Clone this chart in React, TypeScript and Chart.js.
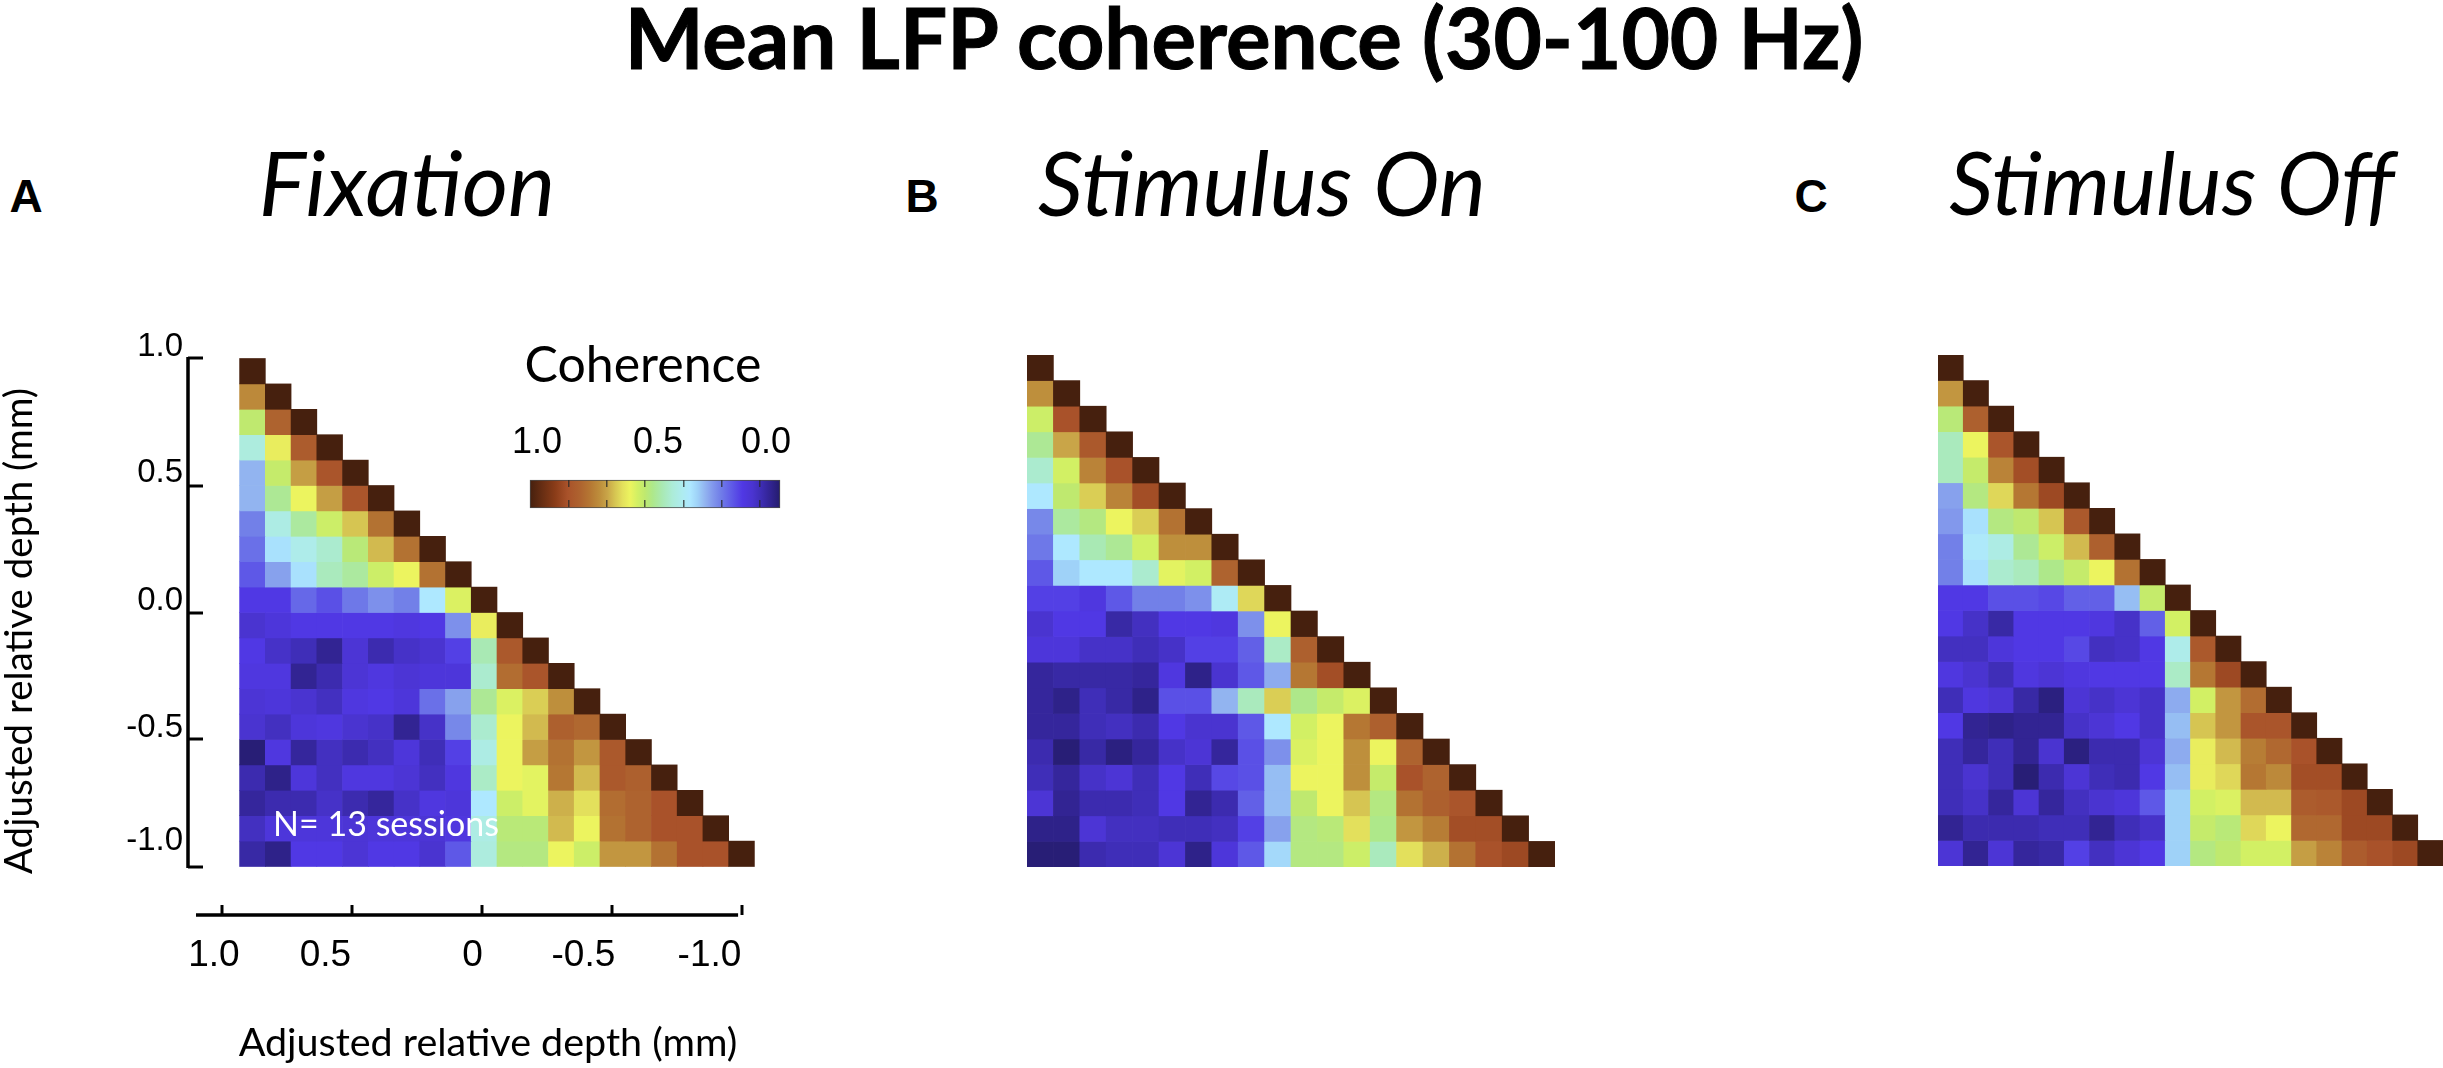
import React, { useEffect, useRef } from "react";
import { Chart, registerables } from "chart.js";

Chart.register(...registerables);

const mainTitle = "Mean LFP coherence (30-100 Hz)";
const panelLetters = ["A", "B", "C"];
const panelTitles = ["Fixation", "Stimulus On", "Stimulus Off"];
const colorbarTitle = "Coherence";
const sessionsNote = "N= 13 sessions";
const axisTitle = "Adjusted relative depth (mm)";

const yTickValues = [1, 0.5, 0, -0.5, -1];
const yLabelPositions = [1.047, 0.551, 0.047, -0.453, -0.898];
const yTickLabels = ["1.0", "0.5", "0.0", "-0.5", "-1.0"];
const xTickValues = [1, 0.5, 0, -0.5, -1];
const xLabelPositions = [1.031, 0.602, 0.036, -0.39, -0.875];
const xTickLabels = ["1.0", "0.5", "0", "-0.5", "-1.0"];

const colorbarLabelPositions = [0.972, 0.488, 0.056];
const colorbarLabels = ["1.0", "0.5", "0.0"];
const colorbarMarks = [0.847, 0.693, 0.54, 0.387, 0.233, 0.08];

const colormapValues = [1, 0.9, 0.85, 0.8, 0.76, 0.72, 0.69, 0.66, 0.63, 0.6, 0.57, 0.54, 0.51, 0.47, 0.43, 0.39, 0.36, 0.33, 0.3, 0.27, 0.24, 0.21, 0.18, 0.15, 0.11, 0.08, 0.05, 0.02, 0];
const colormapColors = ["#46200e", "#8a3c18", "#a9522a", "#ae632f", "#b57733", "#be8f3c", "#c9a548", "#d6c552", "#e3e05c", "#ecf45f", "#d2f064", "#bfe96f", "#aee88a", "#a9e9b4", "#acecd8", "#aeecf0", "#aee8ff", "#9fd2f8", "#92b4f0", "#8298ec", "#7280e8", "#6668e8", "#5a50e6", "#5038e4", "#4a34d0", "#3f2eb8", "#35269c", "#2b2080", "#241c6c"];

const fixationRows = [
  [1],
  [0.73, 1],
  [0.54, 0.8, 1],
  [0.42, 0.61, 0.82, 1],
  [0.3, 0.55, 0.7, 0.84, 1],
  [0.3, 0.5, 0.6, 0.7, 0.84, 1],
  [0.24, 0.41, 0.49, 0.56, 0.66, 0.77, 1],
  [0.22, 0.35, 0.4, 0.44, 0.53, 0.67, 0.77, 1],
  [0.19, 0.28, 0.35, 0.46, 0.49, 0.56, 0.6, 0.77, 1],
  [0.15, 0.15, 0.21, 0.18, 0.23, 0.26, 0.24, 0.36, 0.58, 1],
  [0.11, 0.13, 0.15, 0.15, 0.15, 0.15, 0.14, 0.15, 0.26, 0.61, 1],
  [0.15, 0.1, 0.08, 0.04, 0.12, 0.07, 0.1, 0.11, 0.16, 0.47, 0.83, 1],
  [0.14, 0.14, 0.04, 0.07, 0.12, 0.14, 0.12, 0.13, 0.13, 0.44, 0.78, 0.84, 1],
  [0.12, 0.13, 0.11, 0.09, 0.14, 0.15, 0.13, 0.22, 0.28, 0.5, 0.58, 0.65, 0.72, 1],
  [0.11, 0.09, 0.13, 0.14, 0.11, 0.1, 0.04, 0.1, 0.25, 0.44, 0.6, 0.67, 0.81, 0.79, 1],
  [0.01, 0.14, 0.05, 0.09, 0.07, 0.09, 0.13, 0.08, 0.16, 0.41, 0.6, 0.7, 0.77, 0.71, 0.83, 1],
  [0.07, 0.03, 0.13, 0.09, 0.14, 0.14, 0.12, 0.09, 0.14, 0.45, 0.6, 0.59, 0.76, 0.67, 0.83, 0.81, 1],
  [0.05, 0.07, 0.07, 0.1, 0.07, 0.05, 0.1, 0.14, 0.13, 0.36, 0.56, 0.59, 0.68, 0.63, 0.78, 0.8, 0.85, 1],
  [0.09, 0.13, 0.13, 0.13, 0.12, 0.13, 0.13, 0.12, 0.14, 0.41, 0.53, 0.53, 0.67, 0.6, 0.77, 0.8, 0.85, 0.85, 1],
  [0.06, 0.03, 0.15, 0.15, 0.12, 0.15, 0.15, 0.11, 0.19, 0.42, 0.52, 0.52, 0.6, 0.56, 0.71, 0.71, 0.77, 0.85, 0.85, 1],
];

const stimulusOnRows = [
  [1],
  [0.72, 1],
  [0.56, 0.85, 1],
  [0.5, 0.69, 0.83, 1],
  [0.44, 0.57, 0.74, 0.85, 1],
  [0.36, 0.54, 0.65, 0.74, 0.86, 1],
  [0.25, 0.49, 0.52, 0.6, 0.65, 0.77, 1],
  [0.23, 0.36, 0.47, 0.5, 0.57, 0.72, 0.72, 1],
  [0.19, 0.33, 0.36, 0.36, 0.44, 0.59, 0.57, 0.8, 1],
  [0.16, 0.16, 0.14, 0.19, 0.24, 0.24, 0.26, 0.38, 0.64, 1],
  [0.11, 0.15, 0.15, 0.06, 0.09, 0.15, 0.15, 0.14, 0.26, 0.6, 1],
  [0.13, 0.13, 0.1, 0.1, 0.08, 0.1, 0.16, 0.16, 0.2, 0.45, 0.81, 1],
  [0.05, 0.06, 0.06, 0.06, 0.05, 0.14, 0.03, 0.11, 0.19, 0.29, 0.76, 0.86, 1],
  [0.05, 0.03, 0.08, 0.06, 0.03, 0.18, 0.18, 0.3, 0.46, 0.65, 0.51, 0.55, 0.58, 1],
  [0.05, 0.05, 0.08, 0.09, 0.07, 0.15, 0.11, 0.11, 0.19, 0.36, 0.57, 0.6, 0.76, 0.81, 1],
  [0.07, 0.01, 0.06, 0.02, 0.05, 0.1, 0.12, 0.05, 0.18, 0.26, 0.58, 0.6, 0.72, 0.6, 0.8, 1],
  [0.08, 0.05, 0.1, 0.12, 0.08, 0.15, 0.08, 0.17, 0.18, 0.31, 0.6, 0.6, 0.72, 0.55, 0.85, 0.8, 1],
  [0.12, 0.04, 0.07, 0.07, 0.08, 0.15, 0.04, 0.07, 0.2, 0.31, 0.54, 0.6, 0.66, 0.52, 0.77, 0.81, 0.84, 1],
  [0.03, 0.03, 0.12, 0.09, 0.09, 0.08, 0.08, 0.09, 0.16, 0.28, 0.52, 0.53, 0.63, 0.51, 0.71, 0.75, 0.86, 0.86, 1],
  [0.01, 0.01, 0.07, 0.08, 0.08, 0.12, 0.03, 0.13, 0.19, 0.34, 0.52, 0.52, 0.56, 0.46, 0.63, 0.68, 0.77, 0.85, 0.87, 1],
];

const stimulusOffRows = [
  [1],
  [0.71, 1],
  [0.53, 0.81, 1],
  [0.46, 0.6, 0.84, 1],
  [0.46, 0.55, 0.74, 0.86, 1],
  [0.28, 0.52, 0.64, 0.76, 0.87, 1],
  [0.27, 0.35, 0.52, 0.54, 0.66, 0.83, 1],
  [0.24, 0.37, 0.41, 0.5, 0.56, 0.67, 0.81, 1],
  [0.24, 0.35, 0.44, 0.46, 0.51, 0.55, 0.6, 0.77, 1],
  [0.15, 0.15, 0.18, 0.18, 0.17, 0.2, 0.2, 0.31, 0.55, 1],
  [0.15, 0.1, 0.06, 0.15, 0.15, 0.15, 0.14, 0.1, 0.2, 0.57, 1],
  [0.09, 0.09, 0.13, 0.15, 0.15, 0.17, 0.09, 0.1, 0.15, 0.4, 0.83, 1],
  [0.14, 0.11, 0.08, 0.14, 0.12, 0.14, 0.15, 0.15, 0.15, 0.45, 0.76, 0.87, 1],
  [0.08, 0.14, 0.12, 0.06, 0.02, 0.12, 0.1, 0.12, 0.1, 0.29, 0.57, 0.71, 0.78, 1],
  [0.15, 0.04, 0.03, 0.04, 0.04, 0.1, 0.12, 0.15, 0.1, 0.31, 0.66, 0.71, 0.84, 0.84, 1],
  [0.08, 0.05, 0.08, 0.04, 0.11, 0.02, 0.07, 0.07, 0.12, 0.29, 0.61, 0.67, 0.75, 0.79, 0.85, 1],
  [0.08, 0.11, 0.08, 0.01, 0.07, 0.12, 0.08, 0.07, 0.15, 0.31, 0.61, 0.64, 0.76, 0.73, 0.86, 0.86, 1],
  [0.08, 0.1, 0.05, 0.12, 0.05, 0.09, 0.11, 0.13, 0.19, 0.33, 0.57, 0.58, 0.67, 0.67, 0.82, 0.83, 0.87, 1],
  [0.04, 0.07, 0.07, 0.07, 0.08, 0.08, 0.04, 0.08, 0.1, 0.33, 0.55, 0.53, 0.64, 0.6, 0.79, 0.79, 0.87, 0.87, 1],
  [0.12, 0.04, 0.12, 0.05, 0.06, 0.16, 0.09, 0.12, 0.15, 0.33, 0.52, 0.54, 0.57, 0.57, 0.7, 0.74, 0.82, 0.85, 0.87, 1],
];

const HELV = '"Liberation Sans", Arial, sans-serif';
const LATO = 'Lato, "Open Sans", sans-serif';

function hexToRgb(h: string) {
  return [parseInt(h.slice(1, 3), 16), parseInt(h.slice(3, 5), 16), parseInt(h.slice(5, 7), 16)];
}

function colorFor(v: number) {
  for (let i = 0; i < colormapValues.length - 1; i++) {
    const a = colormapValues[i];
    const b = colormapValues[i + 1];
    if (v <= a && v >= b) {
      const t = (a - v) / (a - b);
      const ca = hexToRgb(colormapColors[i]);
      const cb = hexToRgb(colormapColors[i + 1]);
      const c = ca.map((x, k) => Math.round(x + (cb[k] - x) * t));
      return `rgb(${c[0]},${c[1]},${c[2]})`;
    }
  }
  return colormapColors[colormapColors.length - 1];
}

const ROW_COUNT = fixationRows.length;
const ROW_SPAN = 2 / ROW_COUNT;

function cellDatasets(rows: number[][]) {
  return rows.map((row, r) => ({
    xAxisID: "cellX",
    yAxisID: "y",
    grouped: false,
    barPercentage: 1,
    categoryPercentage: 1,
    borderWidth: 0,
    data: row.map((_, c) => ({ x: c, y: [1 - (r + 1) * ROW_SPAN, 1 - r * ROW_SPAN] })),
    backgroundColor: row.map((v) => colorFor(v)),
  }));
}

function cellXScale(min: number, max: number) {
  return {
    type: "linear",
    axis: "x",
    display: false,
    offset: false,
    min,
    max,
    grid: { display: false, offset: false },
    afterBuildTicks: (s: any) => {
      s.ticks = fixationRows.map((_, i) => ({ value: i }));
    },
  };
}

const spinePlugin = {
  id: "spines",
  afterDraw(chart: any) {
    const { ctx } = chart;
    const y = chart.scales.y;
    const x = chart.scales.xDepth;
    ctx.save();
    ctx.strokeStyle = "#000";
    ctx.lineWidth = 3.5;
    ctx.beginPath();
    ctx.moveTo(chart.chartArea.left - 15, y.getPixelForValue(1) - 1.5);
    ctx.lineTo(chart.chartArea.left - 15, y.getPixelForValue(-1) + 1.5);
    ctx.moveTo(x.getPixelForValue(1.1), chart.chartArea.bottom + 10);
    ctx.lineTo(x.getPixelForValue(-0.985), chart.chartArea.bottom + 10);
    ctx.stroke();
    ctx.restore();
  },
};

const noSidePadding = (s: any) => {
  s.paddingLeft = 0;
  s.paddingRight = 0;
  s.paddingTop = 0;
  s.paddingBottom = 0;
};

function makeMainPanel(canvas: HTMLCanvasElement) {
  // canvas at page (0,320); plot area in page coordinates
  const canvasTop = 320, canvasWidth = 780;
  const areaLeft = 203, areaRight = 773, areaTop = 357, areaBottom = 905;
  const cellsLeft = 239.6, cellW = 25.74;
  const yTop = 358.5, yUnit = 254;
  const xTick1 = 222, xUnit = 260;
  const xMin = -1 - (areaRight - xTick1 - 2 * xUnit) / xUnit;
  const xMax = 1 + (xTick1 - areaLeft) / xUnit;
  const yMin = -1 - (areaBottom - yTop - 2 * yUnit) / yUnit;
  const yMax = 1 + (yTop - areaTop) / yUnit;
  const tickMarks = { color: "#000", tickColor: "#000", tickWidth: 3, lineWidth: 0, drawOnChartArea: false };
  return new Chart(canvas, {
    type: "bar",
    plugins: [spinePlugin],
    data: { datasets: cellDatasets(fixationRows) as any },
    options: {
      animation: false,
      responsive: false,
      devicePixelRatio: 1,
      events: [],
      layout: { padding: { top: areaTop - canvasTop, right: canvasWidth - areaRight, left: 0, bottom: 0 } },
      plugins: { legend: { display: false }, tooltip: { enabled: false }, title: { display: false } },
      scales: {
        cellX: cellXScale(-0.5 - (cellsLeft - areaLeft) / cellW, 19.5 + (areaRight - cellsLeft - 20 * cellW) / cellW),
        xDepth: {
          type: "linear",
          axis: "x",
          position: "bottom",
          weight: 0,
          reverse: true,
          offset: false,
          min: xMin,
          max: xMax,
          border: { display: false },
          grid: { ...tickMarks, offset: false, tickLength: 10 },
          ticks: { display: false, autoSkip: false, includeBounds: false },
          afterBuildTicks: (s: any) => {
            s.ticks = xTickValues.map((value) => ({ value }));
          },
          afterFit: (s: any) => {
            s.height = 10;
            noSidePadding(s);
          },
        },
        xLabels: {
          type: "linear",
          axis: "x",
          position: "bottom",
          weight: 1,
          reverse: true,
          offset: false,
          min: xMin,
          max: xMax,
          border: { display: false },
          grid: { display: false, drawTicks: false, offset: false },
          ticks: {
            color: "#000",
            padding: 19,
            maxRotation: 0,
            autoSkip: false,
            includeBounds: false,
            font: { family: HELV, size: 37 },
            callback: (v: any) => xTickLabels[xLabelPositions.indexOf(v)],
          },
          afterBuildTicks: (s: any) => {
            s.ticks = xLabelPositions.map((value) => ({ value }));
          },
          afterFit: (s: any) => {
            s.height = 1068 - areaBottom - 10;
            noSidePadding(s);
          },
          title: { display: true, text: axisTitle, color: "#000", font: { family: LATO, size: 39.5, lineHeight: 1 }, padding: { top: 0, bottom: 5 } },
        },
        y: {
          type: "linear",
          position: "left",
          weight: 0,
          min: yMin,
          max: yMax,
          border: { display: false },
          grid: { ...tickMarks, tickLength: 15 },
          ticks: { display: false, autoSkip: false, includeBounds: false },
          afterBuildTicks: (s: any) => {
            s.ticks = yTickValues.map((value) => ({ value }));
          },
          afterFit: (s: any) => {
            s.width = 15;
            noSidePadding(s);
          },
        },
        yLabels: {
          type: "linear",
          axis: "y",
          position: "left",
          weight: 1,
          min: yMin,
          max: yMax,
          border: { display: false },
          grid: { display: false, drawTicks: false },
          ticks: {
            color: "#000",
            padding: 5,
            autoSkip: false,
            includeBounds: false,
            font: { family: HELV, size: 33 },
            callback: (v: any) => yTickLabels[yLabelPositions.indexOf(v)],
          },
          afterBuildTicks: (s: any) => {
            s.ticks = yLabelPositions.map((value) => ({ value }));
          },
          afterFit: (s: any) => {
            s.width = areaLeft - 15;
            noSidePadding(s);
          },
          title: { display: true, text: axisTitle, color: "#000", font: { family: LATO, size: 38.5, lineHeight: 1 }, padding: { top: 0, bottom: 0 } },
        },
      },
    } as any,
  });
}

function makeBarePanel(canvas: HTMLCanvasElement, rows: number[][]) {
  return new Chart(canvas, {
    type: "bar",
    data: { datasets: cellDatasets(rows) as any },
    options: {
      animation: false,
      responsive: false,
      devicePixelRatio: 1,
      events: [],
      layout: { padding: 0 },
      plugins: { legend: { display: false }, tooltip: { enabled: false } },
      scales: {
        cellX: cellXScale(-0.5, 19.5),
        y: { type: "linear", display: false, min: -1, max: 1, grid: { display: false } },
      },
    } as any,
  });
}

function makeColorbar(canvas: HTMLCanvasElement) {
  // canvas at page (500,400), size 310x115
  return new Chart(canvas, {
    type: "bar",
    data: {
      labels: [colorbarTitle],
      datasets: [
        {
          xAxisID: "x",
          yAxisID: "y",
          data: [[0, 1]],
          barPercentage: 1,
          categoryPercentage: 1,
          borderWidth: 1,
          borderColor: "#4a4a4a",
          borderSkipped: false,
          clip: false,
          backgroundColor: (ctx: any) => {
            const area = ctx.chart.chartArea;
            if (!area) return colormapColors[0];
            const g = ctx.chart.ctx.createLinearGradient(area.left, 0, area.right, 0);
            colormapValues.forEach((v, i) => g.addColorStop(1 - v, colormapColors[i]));
            return g;
          },
        } as any,
      ],
    },
    options: {
      indexAxis: "y",
      animation: false,
      responsive: false,
      devicePixelRatio: 1,
      events: [],
      layout: { padding: { left: 30, right: 30, bottom: 7, top: 0 } },
      plugins: { legend: { display: false }, tooltip: { enabled: false } },
      scales: {
        y: { type: "category", display: false, grid: { display: false } },
        x: {
          type: "linear",
          position: "bottom",
          reverse: true,
          min: 0,
          max: 1,
          offset: false,
          border: { display: false, dash: [7, 13, 7] },
          grid: { offset: false, z: 1, drawTicks: false, color: "rgba(40,40,40,0.75)", lineWidth: 1.5 },
          ticks: { display: false },
          afterBuildTicks: (s: any) => {
            s.ticks = colorbarMarks.map((value) => ({ value }));
          },
          afterFit: (s: any) => {
            s.height = 0;
            noSidePadding(s);
          },
        },
        xLabels: {
          type: "linear",
          axis: "x",
          position: "top",
          reverse: true,
          min: 0,
          max: 1,
          offset: false,
          border: { display: false },
          grid: { display: false, drawTicks: false, offset: false },
          ticks: {
            color: "#000",
            padding: 15,
            maxRotation: 0,
            autoSkip: false,
            includeBounds: false,
            font: { family: HELV, size: 36 },
            callback: (v: any) => colorbarLabels[colorbarLabelPositions.indexOf(v)],
          },
          afterBuildTicks: (s: any) => {
            s.ticks = colorbarLabelPositions.map((value) => ({ value }));
          },
          afterFit: (s: any) => {
            s.height = 80;
            noSidePadding(s);
          },
        },
      },
    } as any,
  });
}

function Label(props: { text: string; x: number; y: number; font: string; size: number; weight?: number; italic?: boolean; color?: string; stroke?: string }) {
  return (
    <div
      style={{
        position: "absolute",
        left: props.x,
        top: props.y,
        transform: "translate(-50%, -50%)",
        whiteSpace: "nowrap",
        fontFamily: props.font,
        fontSize: props.size,
        lineHeight: 1,
        fontWeight: props.weight ?? 400,
        fontStyle: props.italic ? "italic" : "normal",
        color: props.color ?? "#000",
        WebkitTextStroke: props.stroke,
      }}
    >
      {props.text}
    </div>
  );
}

export default function App() {
  const aRef = useRef<HTMLCanvasElement>(null);
  const bRef = useRef<HTMLCanvasElement>(null);
  const cRef = useRef<HTMLCanvasElement>(null);
  const barRef = useRef<HTMLCanvasElement>(null);

  useEffect(() => {
    const charts = [
      makeMainPanel(aRef.current!),
      makeBarePanel(bRef.current!, stimulusOnRows),
      makeBarePanel(cRef.current!, stimulusOffRows),
      makeColorbar(barRef.current!),
    ];
    return () => charts.forEach((c) => c.destroy());
  }, []);

  const abs = (left: number, top: number): React.CSSProperties => ({ position: "absolute", left, top, display: "block" });

  return (
    <div style={{ position: "fixed", left: 0, top: 0, width: 2443, height: 1068, overflow: "hidden", background: "#fff" }}>
      <canvas ref={aRef} width={780} height={748} style={abs(0, 320)} />
      <canvas ref={bRef} width={528} height={512} style={abs(1027, 355)} />
      <canvas ref={cRef} width={505} height={511} style={abs(1938, 355)} />
      <canvas ref={barRef} width={310} height={115} style={abs(500, 400)} />
      <Label text={mainTitle} x={1244} y={38} font={LATO} size={83.5} weight={700} stroke="1px #000" />
      <Label text={panelLetters[0]} x={26} y={196} font={HELV} size={46} weight={700} />
      <Label text={panelLetters[1]} x={922} y={196} font={HELV} size={46} weight={700} />
      <Label text={panelLetters[2]} x={1811} y={196} font={HELV} size={46} weight={700} />
      <Label text={panelTitles[0]} x={407} y={181} font={LATO} size={89} italic />
      <Label text={panelTitles[1]} x={1262} y={181} font={LATO} size={89} italic />
      <Label text={panelTitles[2]} x={2172} y={181} font={LATO} size={87} italic />
      <Label text={colorbarTitle} x={643} y={363} font={LATO} size={50} />
      <Label text={sessionsNote} x={386} y={823} font={LATO} size={34} color="#fff" />
    </div>
  );
}
